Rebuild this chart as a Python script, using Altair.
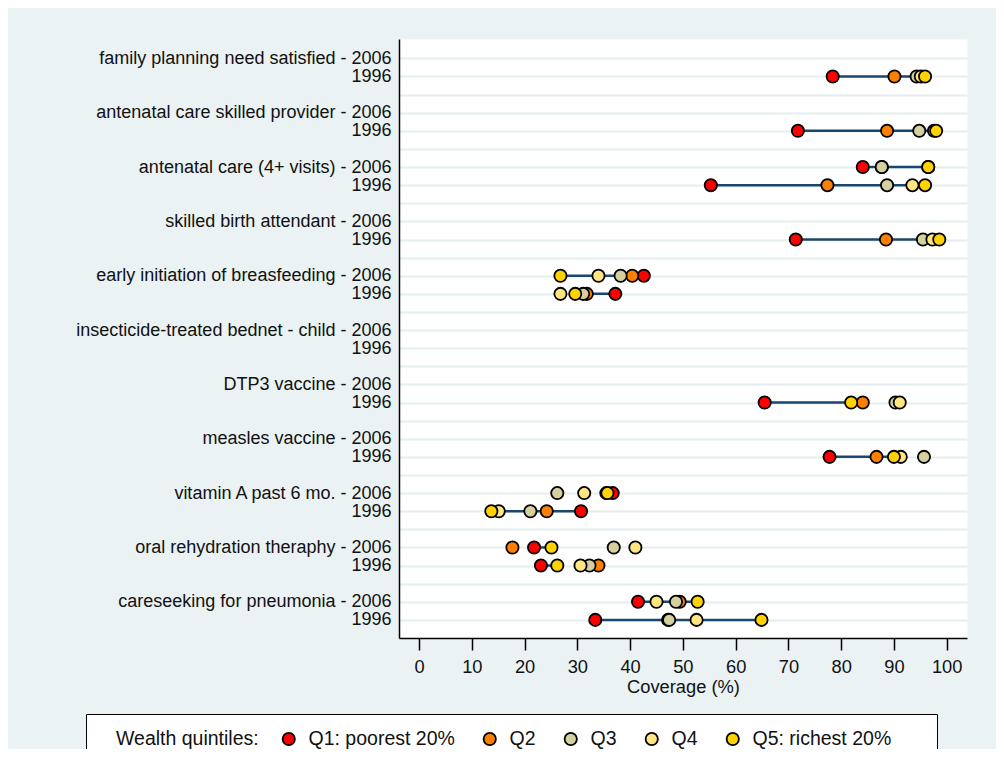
import json
import altair as alt
import pandas as pd

indicators = [
    "family planning need satisfied",
    "antenatal care skilled provider",
    "antenatal care (4+ visits)",
    "skilled birth attendant",
    "early initiation of breasfeeding",
    "insecticide-treated bednet - child",
    "DTP3 vaccine",
    "measles vaccine",
    "vitamin A past 6 mo.",
    "oral rehydration theraphy",
    "careseeking for pneumonia",
]
years = ["2006", "1996"]
quintiles = ["Q1: poorest 20%", "Q2", "Q3", "Q4", "Q5: richest 20%"]
colors = ["#FF0000", "#FF7F00", "#D5D0A0", "#FFE680", "#FFD200"]

# values per quintile, indicator by indicator: 2006 then 1996
q1 = [None, 78.4, None, 71.8, 84.1, 55.3, None, 71.4, 42.6, 37.2, None, None,
      None, 65.5, None, 77.8, 36.7, 30.7, 21.8, 23.1, 41.5, 33.4]
q2 = [None, 90.1, None, 88.7, 87.7, 77.4, None, 88.5, 40.4, 31.8, None, None,
      None, 84.1, None, 86.7, 35.5, 24.2, 17.7, 34.0, 49.4, 47.2]
q3 = [None, 94.3, None, 94.8, 87.7, 88.7, None, 95.5, 38.2, 31.1, None, None,
      None, 90.3, None, 95.7, 26.2, 21.1, 36.9, 32.3, 48.7, 47.4]
q4 = [None, 95.1, None, 97.6, 96.5, 93.5, None, 97.3, 34.0, 26.8, None, None,
      None, 91.1, None, 91.3, 31.3, 15.1, 41.0, 30.6, 45.0, 52.6]
q5 = [None, 95.9, None, 98.0, 96.5, 95.9, None, 98.6, 26.8, 29.6, None, None,
      None, 81.9, None, 90.0, 35.7, 13.7, 25.1, 26.2, 52.8, 64.9]
series = [q1, q2, q3, q4, q5]

# build tables
pts = []
lines = []
y_labels = []
for i, ind in enumerate(indicators):
    for j, yr in enumerate(years):
        k = i * 2 + j
        row = i * 3 + j
        for qi, (qname, vals) in enumerate(zip(quintiles, series)):
            if vals[k] is not None:
                pts.append({"row": row, "value": vals[k], "quintile": qname, "qi": qi})
        if q1[k] is not None and q5[k] is not None:
            lines.append({"row": row, "q1": q1[k], "q5": q5[k]})
    y_labels += [ind + " - " + years[0], years[1], ""]
y_labels = y_labels[:-1]

df_pts = pd.DataFrame(pts)
df_lines = pd.DataFrame(lines)

FONT = "Liberation Sans"
label_expr = "[" + ",".join(json.dumps(s) for s in y_labels) + "][datum.value] || ''"

xscale = alt.Scale(domain=[-3.8, 103.85], nice=False, zero=False)
yscale = alt.Scale(domain=[-1.07, 32], reverse=True, nice=False, zero=False)
xaxis = alt.Axis(values=list(range(0, 101, 10)), title="Coverage (%)", grid=False,
                 domainColor="black", domainWidth=1.5, tickColor="black", tickWidth=1.5,
                 tickSize=12, labelPadding=8, labelFlush=False, labelFont=FONT,
                 labelFontSize=18.3, labelColor="#111111", titleFont=FONT, titleFontSize=18.3,
                 titleFontWeight="normal", titleColor="#111111", titlePadding=3)
yaxis = alt.Axis(values=list(range(32)), labelExpr=label_expr, title=None, grid=True,
                 gridColor="#E4EDF0", gridWidth=2, domainColor="black", domainWidth=1.5,
                 ticks=False, labelPadding=8, labelOverlap=False, labelLimit=500,
                 labelFont=FONT, labelFontSize=18, labelColor="#111111")

rules = alt.Chart(df_lines).mark_rule(color="#1A476F", strokeWidth=2.5).encode(
    x=alt.X("q1:Q", scale=xscale, axis=xaxis),
    x2="q5:Q",
    y=alt.Y("row:Q", scale=yscale, axis=yaxis),
)

points = alt.Chart(df_pts).mark_circle(size=150, opacity=1, stroke="black", strokeWidth=1.8).encode(
    x=alt.X("value:Q", scale=xscale, axis=xaxis),
    y=alt.Y("row:Q", scale=yscale, axis=yaxis),
    fill=alt.Fill("quintile:N", scale=alt.Scale(domain=quintiles, range=colors),
                  legend=alt.Legend(
                      orient="none", legendX=-313, legendY=675, direction="horizontal",
                      title="\u2800Wealth quintiles:", titleOrient="left",
                      titleFont=FONT, titleFontSize=19.5, titleFontWeight="normal",
                      titleColor="#111111", titlePadding=20, titleLimit=400,
                      labelFont=FONT, labelFontSize=19.5, labelColor="#111111",
                      labelOffset=10, labelLimit=400, columnPadding=25,
                      labelExpr="datum.label == 'Q5: richest 20%' ? datum.label + '\u2800\u2800' : datum.label",
                      strokeColor="black", fillColor="white", padding=15,
                      symbolType="circle", symbolSize=150, symbolStrokeColor="black",
                      symbolStrokeWidth=1.8, symbolOpacity=1)),
    order=alt.Order("qi:Q"),
)

chart = alt.layer(rules, points).properties(
    width=568, height=599,
    autosize=alt.AutoSizeParams(type="none"),
    padding={"left": 391, "top": 31, "right": 29, "bottom": 111},
    background="#EAF2F3",
).configure_view(fill="white", stroke="transparent")

chart.save("out.html", embed_options={"renderer": "svg", "actions": False})
